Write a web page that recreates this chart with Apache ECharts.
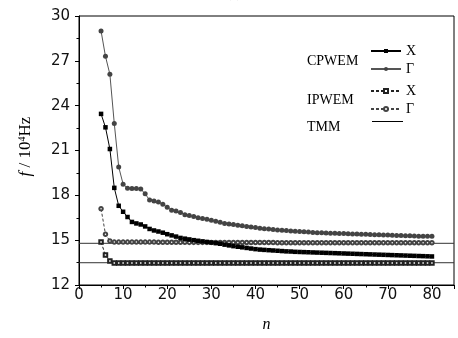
<!DOCTYPE html>
<html><head><meta charset="utf-8">
<script src="https://cdn.jsdelivr.net/npm/echarts@6/dist/echarts.min.js"></script>
<style>html,body{margin:0;padding:0;background:#fff}#c{width:458px;height:338px}</style>
</head><body><div id="c"></div>
<script>
var nValues = [5,6,7,8,9,10,11,12,13,14,15,16,17,18,19,20,21,22,23,24,25,26,27,28,29,30,31,32,33,34,35,36,37,38,39,40,41,42,43,44,45,46,47,48,49,50,51,52,53,54,55,56,57,58,59,60,61,62,63,64,65,66,67,68,69,70,71,72,73,74,75,76,77,78,79,80];
var cpwemX = [23.45,22.55,21.1,18.5,17.3,16.9,16.55,16.22,16.12,16.05,15.92,15.75,15.65,15.58,15.5,15.4,15.32,15.24,15.15,15.1,15.05,15.0,14.96,14.92,14.88,14.84,14.8,14.76,14.7,14.65,14.6,14.56,14.52,14.48,14.44,14.4,14.37,14.35,14.33,14.31,14.29,14.27,14.25,14.24,14.22,14.21,14.2,14.19,14.18,14.17,14.16,14.15,14.14,14.13,14.12,14.11,14.1,14.09,14.08,14.07,14.06,14.05,14.04,14.03,14.02,14.01,14.0,13.99,13.98,13.97,13.96,13.95,13.94,13.93,13.92,13.91];
var cpwemG = [29.0,27.3,26.1,22.8,19.9,18.75,18.48,18.45,18.45,18.42,18.1,17.68,17.62,17.55,17.4,17.2,17.0,16.96,16.85,16.7,16.65,16.58,16.5,16.45,16.4,16.33,16.27,16.2,16.12,16.08,16.04,16.0,15.96,15.92,15.88,15.84,15.8,15.77,15.74,15.71,15.68,15.66,15.64,15.62,15.6,15.58,15.56,15.54,15.52,15.5,15.49,15.48,15.47,15.46,15.45,15.44,15.43,15.42,15.41,15.4,15.39,15.38,15.37,15.36,15.35,15.34,15.33,15.32,15.31,15.3,15.29,15.28,15.27,15.27,15.26,15.26];
var ipwemX = [14.87,14.0,13.6,13.48,13.48,13.48,13.48,13.48,13.48,13.48,13.48,13.48,13.48,13.48,13.48,13.48,13.48,13.48,13.48,13.48,13.48,13.48,13.48,13.48,13.48,13.48,13.48,13.48,13.48,13.48,13.48,13.48,13.48,13.48,13.48,13.48,13.48,13.48,13.48,13.48,13.48,13.48,13.48,13.48,13.48,13.48,13.48,13.48,13.48,13.48,13.48,13.48,13.48,13.48,13.48,13.48,13.48,13.48,13.48,13.48,13.48,13.48,13.48,13.48,13.48,13.48,13.48,13.48,13.48,13.48,13.48,13.48,13.48,13.48,13.48,13.48];
var ipwemG = [17.1,15.4,14.95,14.87,14.87,14.87,14.87,14.87,14.87,14.87,14.87,14.87,14.87,14.86,14.86,14.86,14.86,14.86,14.86,14.86,14.85,14.85,14.85,14.85,14.85,14.85,14.85,14.85,14.85,14.85,14.84,14.84,14.84,14.84,14.84,14.84,14.84,14.84,14.84,14.84,14.83,14.83,14.83,14.83,14.83,14.83,14.83,14.83,14.83,14.83,14.83,14.83,14.83,14.83,14.83,14.83,14.83,14.83,14.83,14.83,14.83,14.83,14.83,14.83,14.83,14.83,14.83,14.83,14.83,14.83,14.83,14.83,14.83,14.83,14.83,14.83];
var tmmLevels = [14.79, 13.49];
var tmmRange = [0, 85];
var xTicks = ['0','10','20','30','40','50','60','70','80'];
var yTicks = ['12','15','18','21','24','27','30'];

function pairs(xs, ys){ return xs.map(function(x,i){ return [x, ys[i]]; }); }
var serif = "'Liberation Serif', 'Times New Roman', serif";
var sans = "'DejaVu Sans', Arial, sans-serif";

var chart = echarts.init(document.getElementById('c'), null, {renderer:'canvas'});
var legendText = {fontFamily: serif, fontSize: 14, color: '#000', lineHeight: 11};
chart.setOption({
  animation: false,
  backgroundColor: '#fff',
  grid: {left: 79, right: 4, top: 16, bottom: 45, show: true, borderColor: '#000', borderWidth: 1, backgroundColor: 'transparent'},
  xAxis: {
    type: 'value', min: 0, max: 85, interval: 10,
    name: 'n', nameLocation: 'middle', nameGap: 32,
    nameTextStyle: {fontFamily: serif, fontStyle: 'italic', fontSize: 16, color: '#000'},
    axisLine: {show: true, lineStyle: {color: '#000', width: 1}},
    axisTick: {show: true, length: 4, lineStyle: {color: '#000'}},
    minorTick: {show: true, splitNumber: 2, length: 2.5, lineStyle: {color: '#000'}},
    splitLine: {show: false},
    axisLabel: {fontFamily: sans, fontSize: 15, color: '#111', margin: 3, showMaxLabel: false,
      formatter: function(v){ var s = String(v); return xTicks.indexOf(s) >= 0 ? s : ''; }}
  },
  yAxis: {
    type: 'value', min: 12, max: 30, interval: 3,
    name: '{i|f} / 10{s|4}Hz', nameLocation: 'middle', nameGap: 44,
    nameTextStyle: {fontFamily: serif, fontSize: 17, color: '#000', padding: [0, 0, 0, 8],
      rich: {i: {fontFamily: serif, fontStyle: 'italic', fontSize: 17}, s: {fontFamily: serif, fontSize: 10, verticalAlign: 'top', padding: [0,0,8,0]}}},
    axisLine: {show: true, lineStyle: {color: '#000', width: 1}},
    axisTick: {show: true, length: 4, lineStyle: {color: '#000'}},
    minorTick: {show: true, splitNumber: 2, length: 2.5, lineStyle: {color: '#000'}},
    splitLine: {show: false},
    axisLabel: {fontFamily: sans, fontSize: 15, color: '#111', margin: 9,
      formatter: function(v){ var s = String(v); return yTicks.indexOf(s) >= 0 ? s : ''; }}
  },
  legend: [
    {data: ['CPWEM X','CPWEM Γ'], orient: 'vertical', left: 370, top: 44, padding: 0, itemWidth: 30, itemHeight: 5, itemGap: 4,
     textStyle: legendText, formatter: function(n){ return n.split(' ')[1]; }, selectedMode: false},
    {data: ['IPWEM X','IPWEM Γ'], orient: 'vertical', left: 370, top: 84, padding: 0, itemWidth: 30, itemHeight: 5, itemGap: 4,
     textStyle: legendText, formatter: function(n){ return n.split(' ')[1]; }, selectedMode: false},
    {data: [{name: 'TMM', icon: 'rect'}], orient: 'vertical', left: 372, top: 121, padding: 0, itemWidth: 31, itemHeight: 1,
     textStyle: legendText, formatter: function(){ return ''; }, selectedMode: false}
  ],
  graphic: [
    {type: 'text', left: 307, top: 54, style: {text: 'CPWEM', font: '14px ' + serif, fill: '#000'}},
    {type: 'text', left: 307, top: 93, style: {text: 'IPWEM', font: '14px ' + serif, fill: '#000'}},
    {type: 'text', left: 307, top: 120, style: {text: 'TMM', font: '14px ' + serif, fill: '#000'}},
    {type: 'text', left: 226, top: -14, style: {text: '(a)', font: '14px ' + serif, fill: '#000'}}
  ],
  series: [
    {name: 'CPWEM X', type: 'line', data: pairs(nValues, cpwemX), symbol: 'rect', symbolSize: 4.5,
     itemStyle: {color: '#000'}, lineStyle: {color: '#000', width: 1}, z: 5},
    {name: 'CPWEM Γ', type: 'line', data: pairs(nValues, cpwemG), symbol: 'circle', symbolSize: 5,
     itemStyle: {color: '#444'}, lineStyle: {color: '#555', width: 1}, z: 5},
    {name: 'IPWEM X', type: 'line', data: pairs(nValues, ipwemX), symbol: 'emptyRect', symbolSize: 3.5,
     itemStyle: {color: '#222', borderWidth: 1}, lineStyle: {color: '#222', width: 1, type: [3,2]}, z: 4},
    {name: 'IPWEM Γ', type: 'line', data: pairs(nValues, ipwemG), symbol: 'emptyCircle', symbolSize: 3.5,
     itemStyle: {color: '#444', borderWidth: 1}, lineStyle: {color: '#444', width: 1, type: [3,2]}, z: 4},
    {name: 'TMM', type: 'line', data: [[tmmRange[0], tmmLevels[0]], [tmmRange[1], tmmLevels[0]]], symbol: 'none',
     lineStyle: {color: '#333', width: 1}, itemStyle: {color: '#000'}, z: 3},
    {name: 'TMM', type: 'line', data: [[tmmRange[0], tmmLevels[1]], [tmmRange[1], tmmLevels[1]]], symbol: 'none',
     lineStyle: {color: '#333', width: 1}, itemStyle: {color: '#000'}, z: 3}
  ]
});
</script></body></html>
